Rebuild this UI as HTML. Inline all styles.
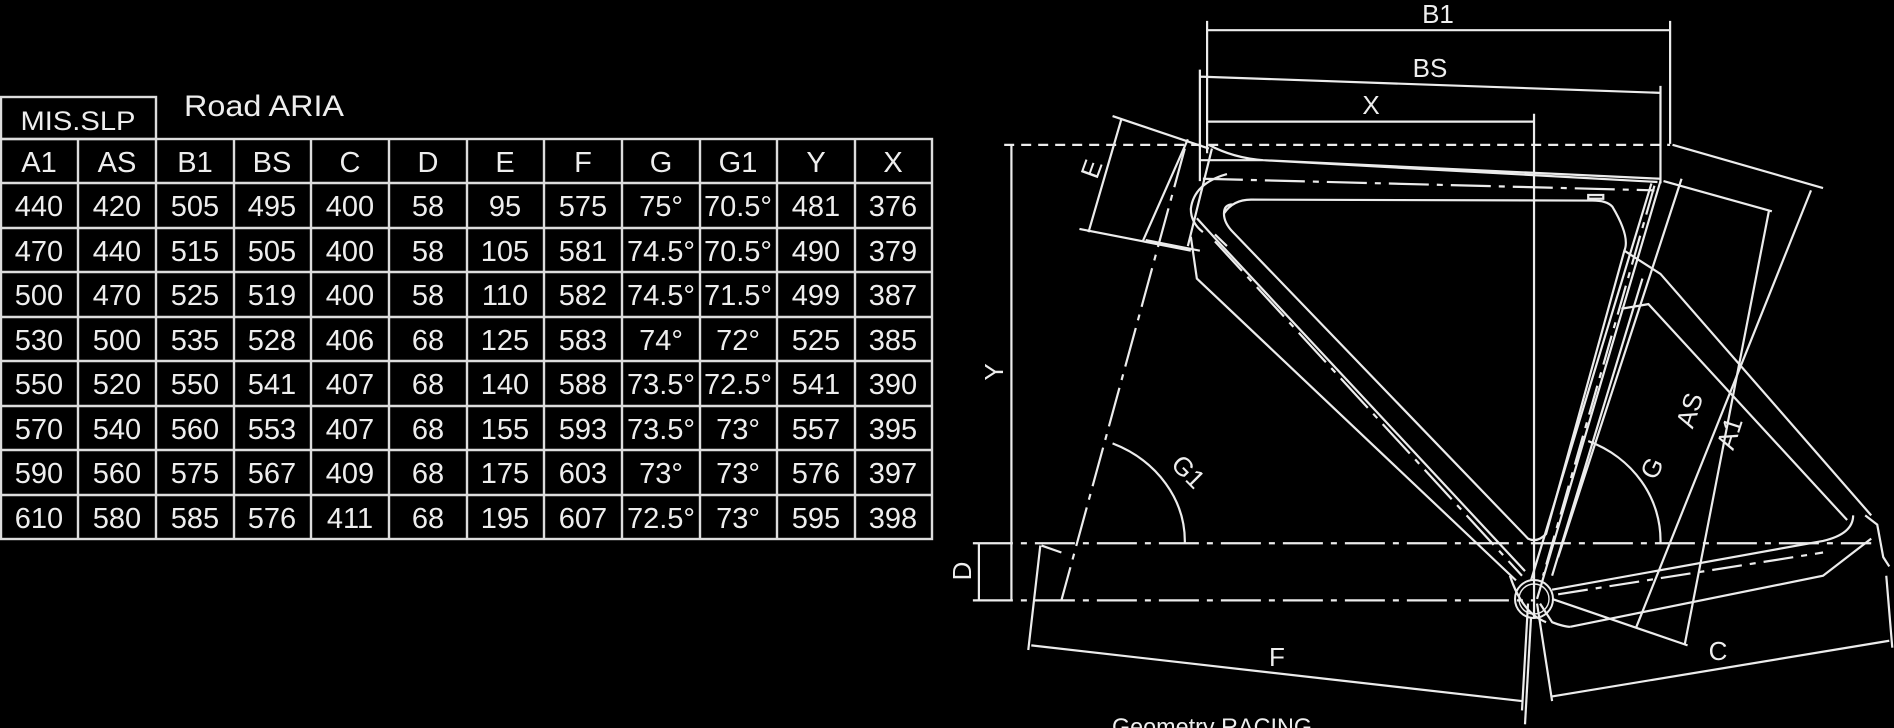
<!DOCTYPE html>
<html><head><meta charset="utf-8"><style>
html,body{margin:0;padding:0;background:#000;width:1894px;height:728px;overflow:hidden}
svg{display:block}
.f *{vector-effect:non-scaling-stroke}
text{font-family:"Liberation Sans",sans-serif;fill:#eee}
</style></head><body>
<svg width="1894" height="728" viewBox="0 0 1894 728" xmlns="http://www.w3.org/2000/svg">
<rect width="1894" height="728" fill="#000"/>
<g stroke="#ddd" stroke-width="2.4" fill="none">
<rect x="1" y="97" width="155" height="42"/>
<rect x="1" y="139" width="931" height="400"/>
<path d="M1 183H932M1 228H932M1 272H932M1 317H932M1 361H932M1 406H932M1 450H932M1 495H932"/>
<path d="M78 139V539M156 139V539M234 139V539M311 139V539M389 139V539M467 139V539M544 139V539M622 139V539M700 139V539M777 139V539M855 139V539"/>
</g>
<g font-size="29" text-anchor="middle">
<text x="78" y="130" font-size="27" textLength="115" lengthAdjust="spacingAndGlyphs">MIS.SLP</text>
<text x="264" y="116" font-size="30" textLength="160" lengthAdjust="spacingAndGlyphs">Road ARIA</text>
<text y="172"><tspan x="39">A1</tspan><tspan x="117">AS</tspan><tspan x="195">B1</tspan><tspan x="272">BS</tspan><tspan x="350">C</tspan><tspan x="428">D</tspan><tspan x="505">E</tspan><tspan x="583">F</tspan><tspan x="661">G</tspan><tspan x="738">G1</tspan><tspan x="816">Y</tspan><tspan x="893">X</tspan></text>
<text y="216"><tspan x="39">440</tspan><tspan x="117">420</tspan><tspan x="195">505</tspan><tspan x="272">495</tspan><tspan x="350">400</tspan><tspan x="428">58</tspan><tspan x="505">95</tspan><tspan x="583">575</tspan><tspan x="661">75°</tspan><tspan x="738">70.5°</tspan><tspan x="816">481</tspan><tspan x="893">376</tspan></text>
<text y="261"><tspan x="39">470</tspan><tspan x="117">440</tspan><tspan x="195">515</tspan><tspan x="272">505</tspan><tspan x="350">400</tspan><tspan x="428">58</tspan><tspan x="505">105</tspan><tspan x="583">581</tspan><tspan x="661">74.5°</tspan><tspan x="738">70.5°</tspan><tspan x="816">490</tspan><tspan x="893">379</tspan></text>
<text y="305"><tspan x="39">500</tspan><tspan x="117">470</tspan><tspan x="195">525</tspan><tspan x="272">519</tspan><tspan x="350">400</tspan><tspan x="428">58</tspan><tspan x="505">110</tspan><tspan x="583">582</tspan><tspan x="661">74.5°</tspan><tspan x="738">71.5°</tspan><tspan x="816">499</tspan><tspan x="893">387</tspan></text>
<text y="350"><tspan x="39">530</tspan><tspan x="117">500</tspan><tspan x="195">535</tspan><tspan x="272">528</tspan><tspan x="350">406</tspan><tspan x="428">68</tspan><tspan x="505">125</tspan><tspan x="583">583</tspan><tspan x="661">74°</tspan><tspan x="738">72°</tspan><tspan x="816">525</tspan><tspan x="893">385</tspan></text>
<text y="394"><tspan x="39">550</tspan><tspan x="117">520</tspan><tspan x="195">550</tspan><tspan x="272">541</tspan><tspan x="350">407</tspan><tspan x="428">68</tspan><tspan x="505">140</tspan><tspan x="583">588</tspan><tspan x="661">73.5°</tspan><tspan x="738">72.5°</tspan><tspan x="816">541</tspan><tspan x="893">390</tspan></text>
<text y="439"><tspan x="39">570</tspan><tspan x="117">540</tspan><tspan x="195">560</tspan><tspan x="272">553</tspan><tspan x="350">407</tspan><tspan x="428">68</tspan><tspan x="505">155</tspan><tspan x="583">593</tspan><tspan x="661">73.5°</tspan><tspan x="738">73°</tspan><tspan x="816">557</tspan><tspan x="893">395</tspan></text>
<text y="483"><tspan x="39">590</tspan><tspan x="117">560</tspan><tspan x="195">575</tspan><tspan x="272">567</tspan><tspan x="350">409</tspan><tspan x="428">68</tspan><tspan x="505">175</tspan><tspan x="583">603</tspan><tspan x="661">73°</tspan><tspan x="738">73°</tspan><tspan x="816">576</tspan><tspan x="893">397</tspan></text>
<text y="528"><tspan x="39">610</tspan><tspan x="117">580</tspan><tspan x="195">585</tspan><tspan x="272">576</tspan><tspan x="350">411</tspan><tspan x="428">68</tspan><tspan x="505">195</tspan><tspan x="583">607</tspan><tspan x="661">72.5°</tspan><tspan x="738">73°</tspan><tspan x="816">595</tspan><tspan x="893">398</tspan></text>
</g>
<g class="f" transform="translate(950,0) scale(0.6021,0.4643)" fill="none" stroke="#ececec" stroke-width="2.2">
<path d="M427 65H1196M427 45V330M1196 45V310"/>
<path d="M415 165L1180 200M415 150V390M1180 185V395"/>
<path d="M427 262H970M970 245V1330"/>
<path d="M90 312H1196" stroke-dasharray="10 7"/>
<path d="M102 312V1293M48 1170V1293"/>
<path d="M38 1170H1530M38 1293H970" stroke-dasharray="40 8 6 8"/>
<path d="M285 255L230 500M270 250L430 320M215 493L400 540"/>
<path d="M395 300L320 520M435 320L395 530M325 517L415 540"/>
<path d="M390 320L185 1293" stroke-dasharray="40 8 6 8"/>
<path d="M270 955A200 230 0 0 1 390 1170"/>
<path d="M1060 950A190 230 0 0 1 1180 1170"/>
<path d="M150 1175L130 1400M135 1390L950 1510M960 1300L950 1530M152 1175L185 1190"/>
<path d="M975 1300L1000 1510M1000 1500L1560 1380M1555 1240L1565 1395"/>
<path d="M1185 390L1365 455M1360 455L1220 1390M1000 1290L1225 1390"/>
<path d="M1200 312L1450 405M1430 410L1140 1350"/>
<path d="M430 312Q470 340 520 345L1180 385M415 345H520L1175 392"/>
<path d="M420 385L1170 410" stroke-dasharray="40 8 6 8"/>
<path d="M470 440Q455 440 455 460Q455 480 470 500L960 1160Q975 1170 990 1150L1120 540Q1130 510 1100 445Q1090 430 1060 432L500 430Q470 430 455 460"/>
<path d="M460 375Q405 395 400 450Q400 480 420 500M400 510L410 600L940 1250"/>
<path d="M410 470L445 520L955 1230" />
<path d="M440 520L950 1240" stroke-dasharray="40 8 6 8"/>
<path d="M1180 390L975 1290M1215 385L1010 1200M1165 395L965 1250M1150 600L1000 1240"/>
<path d="M1170 400L985 1240" stroke-dasharray="30 8 6 8"/>
<path d="M1120 540L1180 590L1530 1110M1115 665L1160 655L1490 1120"/>
<path d="M1000 1270L1450 1165Q1500 1150 1500 1110M1030 1350L1450 1240L1530 1160"/>
<path d="M1010 1280L1450 1190" stroke-dasharray="30 8 6 8"/>
<path d="M980 1300L1000 1340Q1020 1350 1030 1350M930 1240Q950 1320 990 1340"/>
<path d="M965 1330L955 1560"/>
<path d="M1520 1110L1540 1130L1550 1200L1560 1220"/>
<path d="M1060 420H1085V428H1060Z M440 505L460 530"/>
</g>
<circle cx="1534" cy="599" r="19" fill="none" stroke="#ececec" stroke-width="2"/>
<circle cx="1534" cy="599" r="15" fill="none" stroke="#ececec" stroke-width="1.4"/>
<g font-size="26" text-anchor="middle">
<text x="1438" y="23">B1</text>
<text x="1430" y="77">BS</text>
<text x="1371" y="114">X</text>
<text x="1277" y="666">F</text>
<text x="1718" y="660">C</text>
<text transform="translate(1003,372) rotate(-90)">Y</text>
<text transform="translate(971,571) rotate(-90)">D</text>
<text transform="translate(1100,172) rotate(-70)">E</text>
<text transform="translate(1182,478) rotate(45)">G1</text>
<text transform="translate(1660,472) rotate(-65)">G</text>
<text transform="translate(1698,413) rotate(-72)">AS</text>
<text transform="translate(1738,436) rotate(-72)">A1</text>
<text x="1112" y="735" text-anchor="start" font-size="24" textLength="200" lengthAdjust="spacingAndGlyphs">Geometry RACING</text>
</g>
</svg>
</body></html>
